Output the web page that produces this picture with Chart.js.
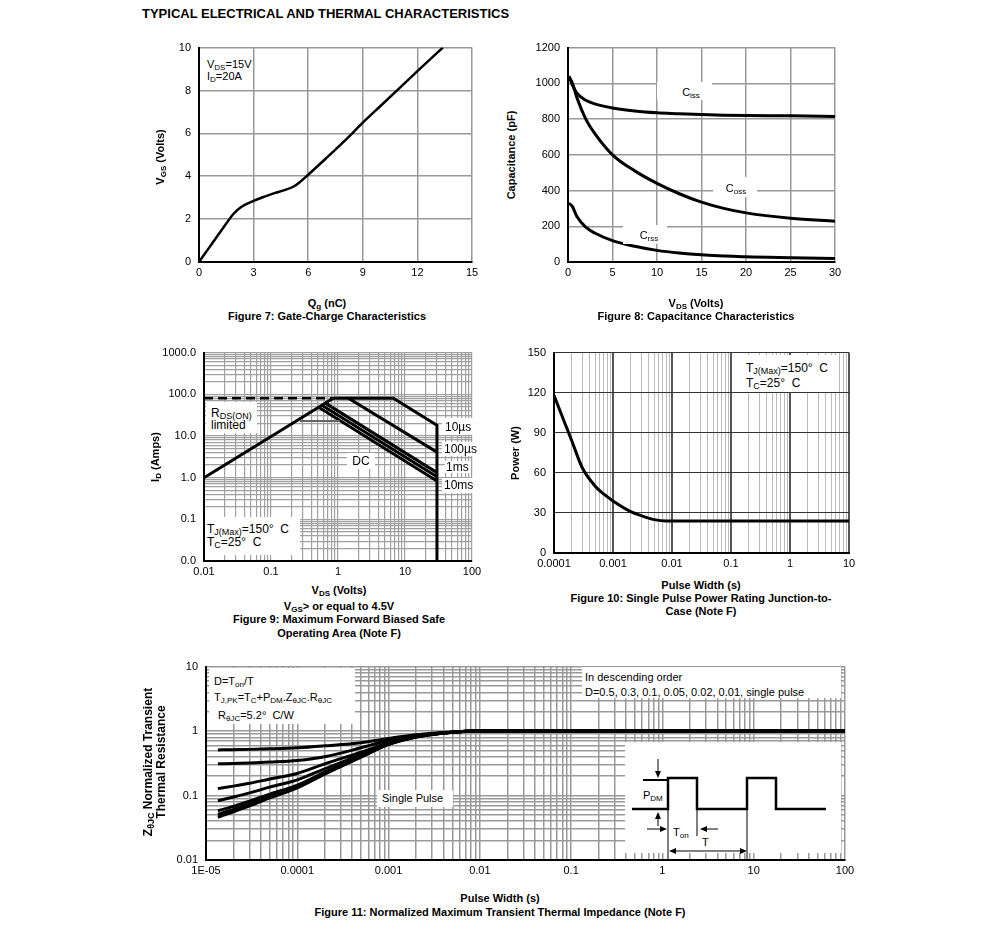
<!DOCTYPE html>
<html lang="en">
<head>
    <meta charset="UTF-8">
    <title>Typical Electrical and Thermal Characteristics</title>
    <script src="https://cdn.jsdelivr.net/npm/chart.js"></script>
    <style>
        body { margin: 0; background: #fff; font-family: Arial, "Liberation Sans", sans-serif; color: #000; }
        #page { position: relative; width: 991px; height: 946px; overflow: hidden; }
        canvas { position: absolute; }
        .t { position: absolute; font-size: 11px; white-space: nowrap; line-height: 1; }
        .m { font-size: 12px; }
        .c { transform: translate(-50%, -50%); }
        .l { transform: translateY(-50%); }
        .r { transform: translate(-50%, -50%) rotate(-90deg); }
        .b { font-weight: bold; }
        .box { position: absolute; background: #fff; }
        sub { font-size: 8px; vertical-align: -2px; line-height: 0; }
        .m sub { font-size: 9px; }
    </style>
</head>
<body>
<div id="page">
    <div class="t b" style="left:142px;top:7px;font-size:13px;">TYPICAL ELECTRICAL AND THERMAL CHARACTERISTICS</div>

    <canvas id="fig7"></canvas>
    <canvas id="fig8"></canvas>
    <canvas id="fig9"></canvas>
    <canvas id="fig10"></canvas>
    <canvas id="fig11"></canvas>

    <!-- Figure 7 -->
    <div class="box" style="left:201px;top:49px;width:52px;height:39px;"></div>
    <div class="t l" style="left:207px;top:64px;">V<sub>DS</sub>=15V</div>
    <div class="t l" style="left:207px;top:76px;">I<sub>D</sub>=20A</div>
    <div class="t b r" style="left:160px;top:157px;">V<sub>GS</sub> (Volts)</div>
    <div class="t b c" style="left:327px;top:303px;">Q<sub>g</sub> (nC)</div>
    <div class="t b c" style="left:327px;top:316px;">Figure 7: Gate-Charge Characteristics</div>

    <!-- Figure 8 -->
    <div class="box" style="left:657px;top:82px;width:55px;height:18px;"></div>
    <div class="t c" style="left:691px;top:92px;">C<sub>iss</sub></div>
    <div class="box" style="left:713px;top:177px;width:44px;height:20px;"></div>
    <div class="t c" style="left:736px;top:188px;">C<sub>oss</sub></div>
    <div class="box" style="left:623px;top:225px;width:44px;height:19px;"></div>
    <div class="t c" style="left:649px;top:235px;">C<sub>rss</sub></div>
    <div class="t b r" style="left:511px;top:155px;">Capacitance (pF)</div>
    <div class="t b c" style="left:696px;top:303px;">V<sub>DS</sub> (Volts)</div>
    <div class="t b c" style="left:696px;top:316px;">Figure 8: Capacitance Characteristics</div>

    <!-- Figure 9 -->
    <div class="box" style="left:206px;top:402px;width:51px;height:31px;"></div>
    <div class="t m l" style="left:211px;top:413px;">R<sub>DS(ON)</sub></div>
    <div class="t m l" style="left:211px;top:425px;">limited</div>
    <div class="box" style="left:442px;top:418px;width:31px;height:17px;"></div>
    <div class="t m l" style="left:445px;top:427px;">10µs</div>
    <div class="box" style="left:442px;top:442px;width:31px;height:14px;"></div>
    <div class="t m l" style="left:444px;top:449px;">100µs</div>
    <div class="box" style="left:445px;top:461px;width:26px;height:12px;"></div>
    <div class="t m l" style="left:446px;top:467px;">1ms</div>
    <div class="box" style="left:442px;top:478px;width:31px;height:15px;"></div>
    <div class="t m l" style="left:444px;top:485px;">10ms</div>
    <div class="box" style="left:347px;top:453px;width:28px;height:16px;"></div>
    <div class="t m c" style="left:361px;top:461px;">DC</div>
    <div class="box" style="left:205px;top:517px;width:95px;height:38px;"></div>
    <div class="t m l" style="left:207px;top:529px;">T<sub>J(Max)</sub>=150°&nbsp; C</div>
    <div class="t m l" style="left:207px;top:542px;">T<sub>C</sub>=25°&nbsp; C</div>
    <div class="t b r" style="left:155px;top:457px;">I<sub>D</sub> (Amps)</div>
    <div class="t b c" style="left:339px;top:590px;">V<sub>DS</sub> (Volts)</div>
    <div class="t b c" style="left:339px;top:606px;">V<sub>GS</sub>&gt; or equal to 4.5V</div>
    <div class="t b c" style="left:339px;top:619px;">Figure 9: Maximum Forward Biased Safe</div>
    <div class="t b c" style="left:339px;top:633px;">Operating Area (Note F)</div>

    <!-- Figure 10 -->
    <div class="box" style="left:742px;top:355px;width:95px;height:37px;"></div>
    <div class="t m l" style="left:746px;top:368px;">T<sub>J(Max)</sub>=150°&nbsp; C</div>
    <div class="t m l" style="left:746px;top:383px;">T<sub>C</sub>=25°&nbsp; C</div>
    <div class="t b r" style="left:515px;top:453px;">Power (W)</div>
    <div class="t b c" style="left:701px;top:585px;">Pulse Width (s)</div>
    <div class="t b c" style="left:701px;top:598px;">Figure 10: Single Pulse Power Rating Junction-to-</div>
    <div class="t b c" style="left:701px;top:611px;">Case (Note F)</div>

    <!-- Figure 11 -->
    <div class="box" style="left:209px;top:668px;width:146px;height:56px;"></div>
    <div class="t l" style="left:214px;top:681px;">D=T<sub>on</sub>/T</div>
    <div class="t l" style="left:214px;top:697px;">T<sub>J,PK</sub>=T<sub>C</sub>+P<sub>DM</sub>.Z<sub>θJC</sub>.R<sub>θJC</sub></div>
    <div class="t l" style="left:218px;top:715px;">R<sub>θJC</sub>=5.2°&nbsp; C/W</div>
    <div class="box" style="left:582px;top:667px;width:259px;height:31px;"></div>
    <div class="t l" style="left:585px;top:677px;">In descending order</div>
    <div class="t l" style="left:585px;top:692px;">D=0.5, 0.3, 0.1, 0.05, 0.02, 0.01, single pulse</div>
    <div class="box" style="left:377px;top:790px;width:76px;height:17px;"></div>
    <div class="t l" style="left:382px;top:798px;">Single Pulse</div>
    <svg width="217" height="118" viewBox="625 742 217 118" style="position:absolute;left:625px;top:742px;">
        <rect x="625" y="742" width="216" height="111" fill="#fff"/>
        <g stroke="#000" fill="none">
            <polyline stroke-width="2.5" points="632,809 668,809 668,778 697,778 697,809 747,809 747,778 776,778 776,809 826,809"/>
            <line x1="643" y1="780" x2="668" y2="780" stroke-width="2"/>
            <line x1="658" y1="759" x2="658" y2="772" stroke-width="1"/>
            <line x1="658" y1="826" x2="658" y2="818" stroke-width="1"/>
            <line x1="647" y1="829" x2="661" y2="829" stroke-width="1"/>
            <line x1="718" y1="829" x2="706" y2="829" stroke-width="1"/>
            <line x1="668" y1="809" x2="668" y2="860" stroke-width="1"/>
            <line x1="697" y1="809" x2="697" y2="836" stroke-width="1"/>
            <line x1="747" y1="809" x2="747" y2="860" stroke-width="1"/>
            <line x1="675" y1="851" x2="741" y2="851" stroke-width="1"/>
        </g>
        <g fill="#000">
            <polygon points="655,771 661,771 658,778"/>
            <polygon points="655,819 661,819 658,812"/>
            <polygon points="660,826 660,832 667,829"/>
            <polygon points="707,826 707,832 700,829"/>
            <polygon points="676,848 676,854 669,851"/>
            <polygon points="740,848 740,854 747,851"/>
        </g>
        <g font-family="Arial, 'Liberation Sans', sans-serif" font-size="11" fill="#000">
            <text x="643" y="799">P<tspan font-size="8" dy="2">DM</tspan></text>
            <text x="673" y="836">T<tspan font-size="8" dy="2">on</tspan></text>
            <text x="702" y="846">T</text>
        </g>
    </svg>
    <div class="t b r m" style="left:148px;top:762px;">Z<sub>θJC</sub> Normalized Transient</div>
    <div class="t b r m" style="left:161px;top:762px;">Thermal Resistance</div>
    <div class="t b c" style="left:500px;top:898px;">Pulse Width (s)</div>
    <div class="t b c" style="left:500px;top:912px;">Figure 11: Normalized Maximum Transient Thermal Impedance (Note F)</div>
</div>

<script>
// Figure 7: gate charge
const qgNc     = [0, 0.5, 1.0, 1.5, 1.9, 2.3, 3.0, 3.6, 4.1, 4.7, 5.2, 5.5, 6.0, 7.0, 8.0, 9.0, 10.0, 11.0, 12.0, 13.4];
const vgsVolts = [0, 0.6, 1.2, 1.8, 2.25, 2.55, 2.85, 3.05, 3.2, 3.35, 3.52, 3.7, 4.07, 4.85, 5.65, 6.5, 7.3, 8.1, 8.9, 10.0];

// Figure 8: capacitance
const vdsCap = [0.1, 0.5, 1, 2, 3, 5, 7.5, 10, 12.5, 15, 17.5, 20, 25, 30];
const ciss   = [1040, 990, 945, 905, 885, 862, 845, 835, 830, 825, 822, 820, 818, 815];
const coss   = [1040, 1000, 920, 800, 720, 600, 510, 440, 382, 335, 300, 275, 245, 228];
const crss   = [330, 310, 254, 195, 162, 120, 88, 65, 50, 40, 34, 29, 24, 20];

// Figure 9: safe operating area (segments)
const rdsLimX = [0.01, 0.85], rdsLimY = [80, 80];
const riseX   = [0.01, 0.85], riseY   = [1.0, 80];
const us10X   = [0.85, 6.7, 30, 30], us10Y = [80, 80, 18, 0.01];
const us100X  = [1.43, 30], us100Y = [80, 4.1];
const ms1X    = [0.63, 30], ms1Y   = [63, 1.32];
const ms10X   = [0.56, 30], ms10Y  = [56, 1.05];
const dcX     = [0.5, 30],  dcY    = [50, 0.83];
const stepX   = [0.27, 1.07], stepY = [23, 23];

// Figure 10: single pulse power
const pulseT   = [1e-4, 1.5e-4, 2e-4, 3e-4, 5e-4, 7e-4, 1e-3, 2e-3, 3e-3, 5e-3, 8e-3, 1e-2, 10];
const powerW   = [118, 98, 84, 64, 50, 44, 39, 31, 28, 25, 24, 24, 24];

// Figure 11: transient thermal impedance
const zthT    = [1.35e-5, 2e-5, 3e-5, 5e-5, 1e-4, 2e-4, 5e-4, 1e-3, 2e-3, 5e-3, 1e-2, 100];
const zthD05  = [0.51, 0.515, 0.52, 0.53, 0.55, 0.59, 0.66, 0.77, 0.88, 0.97, 1.0, 1.0];
const zthD03  = [0.31, 0.315, 0.32, 0.33, 0.35, 0.40, 0.55, 0.72, 0.85, 0.96, 1.0, 1.0];
const zthD01  = [0.128, 0.14, 0.155, 0.18, 0.22, 0.31, 0.47, 0.66, 0.83, 0.96, 1.0, 1.0];
const zthD005 = [0.083, 0.095, 0.11, 0.135, 0.175, 0.26, 0.43, 0.64, 0.82, 0.96, 1.0, 1.0];
const zthD002 = [0.058, 0.068, 0.082, 0.105, 0.145, 0.23, 0.41, 0.63, 0.82, 0.96, 1.0, 1.0];
const zthD001 = [0.051, 0.061, 0.074, 0.097, 0.138, 0.22, 0.40, 0.62, 0.81, 0.96, 1.0, 1.0];
const zthSP   = [0.046, 0.056, 0.069, 0.092, 0.132, 0.215, 0.395, 0.62, 0.81, 0.96, 1.0, 1.0];

Chart.defaults.font.family = 'Arial, "Liberation Sans", sans-serif';
Chart.defaults.font.size = 11;
Chart.defaults.color = '#000';

const YW = 50, XH = 22, PT = 8, PR = 16;

// create the chart, then size/move the canvas so the plot area lands on the given box
function build(id, left, top, w, h, config) {
    const c = document.getElementById(id);
    c.width = YW + w + PR;
    c.height = PT + h + XH;
    const ch = new Chart(c, config);
    let a = ch.chartArea;
    const dw = w - (a.right - a.left), dh = h - (a.bottom - a.top);
    if (Math.abs(dw) > 0.5 || Math.abs(dh) > 0.5) {
        ch.resize(Math.round(c.width + dw), Math.round(c.height + dh));
        a = ch.chartArea;
    }
    c.style.left = (left - a.left) + 'px';
    c.style.top = (top - a.top) + 'px';
    return ch;
}

function isDecade(v) {
    const l = Math.log10(v);
    return Math.abs(l - Math.round(l)) < 1e-6;
}

function logTicks(e0, e1) {
    const t = [];
    for (let e = e0; e < e1; e++)
        for (let k = 1; k < 10; k++) t.push(k * Math.pow(10, e));
    t.push(Math.pow(10, e1));
    return t;
}

function pts(xs, ys) { return xs.map((x, i) => ({ x: x, y: ys[i] })); }

function line(xs, ys, extra) {
    return Object.assign({
        data: pts(xs, ys), showLine: true, borderColor: '#000', backgroundColor: '#000',
        borderWidth: 3, pointRadius: 0, fill: false, tension: 0
    }, extra || {});
}

function scale(isX, o) {
    const s = {
        type: o.type || 'linear', min: o.min, max: o.max,
        border: { color: '#000', width: 2 },
        grid: { color: o.gridColor || '#999', lineWidth: o.gridWidth || 1.5, drawTicks: false },
        ticks: { padding: isX ? 4 : 8, autoSkip: false, maxRotation: 0, color: '#000' },
        afterFit: sc => { if (isX) sc.height = XH; else sc.width = YW; }
    };
    if (o.step) s.ticks.stepSize = o.step;
    if (o.cb) s.ticks.callback = o.cb;
    if (o.ticks) s.afterBuildTicks = sc => { sc.ticks = o.ticks.map(v => ({ value: v })); };
    return s;
}

function opts(x, y) {
    return {
        responsive: false, maintainAspectRatio: false, animation: false, events: [],
        layout: { padding: { top: PT, right: PR, left: 0, bottom: 0 } },
        plugins: { legend: { display: false }, tooltip: { enabled: false } },
        scales: { x: x, y: y }
    };
}

const smooth = { cubicInterpolationMode: 'monotone' };
const plain = v => String(v);

// Figure 7
build('fig7', 199, 48, 273, 214, {
    type: 'scatter',
    data: { datasets: [line(qgNc, vgsVolts, Object.assign({ borderWidth: 2.5 }, smooth))] },
    options: opts(scale(true, { min: 0, max: 15, step: 3, cb: plain }),
                  scale(false, { min: 0, max: 10, step: 2, cb: plain }))
});

// Figure 8
build('fig8', 568, 48, 267, 214, {
    type: 'scatter',
    data: { datasets: [
        line(vdsCap, ciss, smooth),
        line(vdsCap, coss, smooth),
        line(vdsCap, crss, smooth)
    ] },
    options: opts(scale(true, { min: 0, max: 30, step: 5, cb: plain }),
                  scale(false, { min: 0, max: 1200, step: 200, cb: plain }))
});

// Figure 9
build('fig9', 204, 353, 268, 208, {
    type: 'scatter',
    data: { datasets: [
        line(stepX, stepY, { borderColor: '#666', borderWidth: 2 }),
        line(rdsLimX, rdsLimY, { borderWidth: 2.5, borderDash: [9, 5] }),
        line(riseX, riseY),
        line(us10X, us10Y),
        line(us100X, us100Y),
        line(ms1X, ms1Y),
        line(ms10X, ms10Y),
        line(dcX, dcY)
    ] },
    options: opts(
        scale(true, { type: 'logarithmic', min: 0.01, max: 100, ticks: logTicks(-2, 2),
            gridColor: '#a0a0a0', gridWidth: 1.2,
            cb: v => isDecade(v) ? String(v) : '' }),
        scale(false, { type: 'logarithmic', min: 0.01, max: 1000, ticks: logTicks(-2, 3),
            gridColor: '#a0a0a0', gridWidth: 1.2,
            cb: v => isDecade(v) ? v.toFixed(1) : '' })
    )
});

// Figure 10
const f10x = scale(true, { type: 'logarithmic', min: 1e-4, max: 10, ticks: logTicks(-4, 1),
    cb: v => isDecade(v) ? String(v) : '' });
f10x.grid.color = ctx => isDecade(ctx.tick.value) ? '#555' : '#bbb';
f10x.grid.lineWidth = ctx => isDecade(ctx.tick.value) ? 2 : 1;
build('fig10', 554, 353, 295, 200, {
    type: 'scatter',
    data: { datasets: [line(pulseT, powerW, smooth)] },
    options: opts(f10x, scale(false, { min: 0, max: 150, step: 30, gridColor: '#333', gridWidth: 1, cb: plain }))
});

// Figure 11
build('fig11', 206, 667, 639, 193, {
    type: 'scatter',
    data: { datasets: [
        line(zthT, zthD05, smooth),
        line(zthT, zthD03, smooth),
        line(zthT, zthD01, smooth),
        line(zthT, zthD005, smooth),
        line(zthT, zthD002, smooth),
        line(zthT, zthD001, smooth),
        line(zthT, zthSP, smooth)
    ] },
    options: opts(
        scale(true, { type: 'logarithmic', min: 1e-5, max: 100, ticks: logTicks(-5, 2),
            cb: v => isDecade(v) ? (v < 5e-5 ? '1E-05' : String(v)) : '' }),
        scale(false, { type: 'logarithmic', min: 0.01, max: 10, ticks: logTicks(-2, 1),
            cb: v => isDecade(v) ? String(v) : '' })
    )
});
</script>
</body>
</html>
